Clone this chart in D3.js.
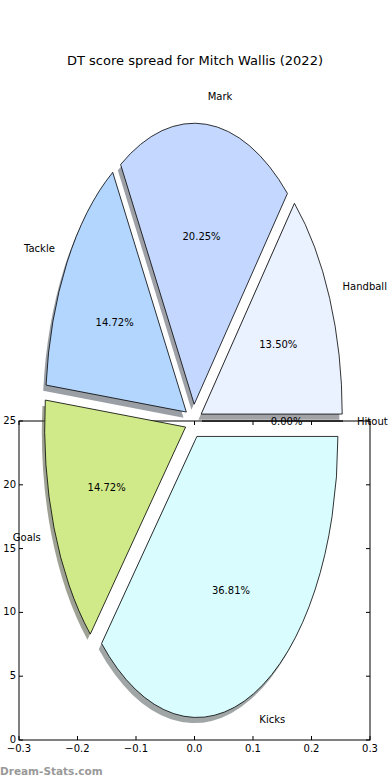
<!DOCTYPE html>
<meta charset="utf-8">
<style>
body { margin: 0; background: #fff; }
svg { font-family: "DejaVu Sans", sans-serif; }
</style>
<body>
<svg id="chart" width="390" height="780"></svg>
</body>
<script src="https://d3js.org/d3.v7.min.js"></script>
<script>
// data: DT points per stat category
var categories = ["Handball", "Mark", "Tackle", "Goals", "Kicks", "Hitout"];
var dtPoints = [22, 33, 24, 24, 60, 0];
var sliceColors = ["#eaf1ff", "#c4d8ff", "#b3d6ff", "#d0ea8a", "#d9fdff", "#ffe4e1"];
var xTicks = [-0.3, -0.2, -0.1, 0.0, 0.1, 0.2, 0.3];
var yTicks = [0, 5, 10, 15, 20, 25];

var svg = d3.select("#chart");

// axes box
var x = d3.scaleLinear().domain([-0.3, 0.3]).range([19, 370]);
var y = d3.scaleLinear().domain([0, 25]).range([740, 421]);

var cx = x(0) - 1, cy = y(25),
  rx = 141, ry = 281,
  explode = 0.06;

svg.append("text")
  .attr("x", 195).attr("y", 65)
  .attr("text-anchor", "middle")
  .style("font-size", "13px")
  .text("DT score spread for Mitch Wallis (2022)");

// frame first, wedges are drawn over it
var frame = svg.append("g");
frame.append("rect")
  .attr("x", x(-0.3)).attr("y", y(25))
  .attr("width", x(0.3) - x(-0.3)).attr("height", y(0) - y(25))
  .attr("fill", "none").attr("stroke", "#000").attr("stroke-width", 1);

xTicks.forEach(function (t) {
  frame.append("line").attr("x1", x(t)).attr("x2", x(t)).attr("y1", y(0)).attr("y2", y(0) - 4).attr("stroke", "#000");
  frame.append("line").attr("x1", x(t)).attr("x2", x(t)).attr("y1", y(25)).attr("y2", y(25) + 4).attr("stroke", "#000");
  frame.append("text").attr("x", x(t)).attr("y", y(0) + 12)
    .attr("text-anchor", "middle").style("font-size", "10px")
    .text(d3.format(".1f")(t).replace("-", "\u2212"));
});
yTicks.forEach(function (t) {
  frame.append("line").attr("x1", x(-0.3)).attr("x2", x(-0.3) + 4).attr("y1", y(t)).attr("y2", y(t)).attr("stroke", "#000");
  frame.append("line").attr("x1", x(0.3)).attr("x2", x(0.3) - 4).attr("y1", y(t)).attr("y2", y(t)).attr("stroke", "#000");
  frame.append("text").attr("x", x(-0.3) - 3).attr("y", y(t)).attr("dy", "0.3em")
    .attr("text-anchor", "end").style("font-size", "10px").text(t);
});

// pie: matplotlib style, starts at 3 o'clock, counterclockwise
var pie = d3.pie().sort(null).value(function (d) { return d; })
  .startAngle(Math.PI / 2).endAngle(Math.PI / 2 - 2 * Math.PI);
var arcs = pie(dtPoints);
var total = d3.sum(dtPoints);
var arc = d3.arc().innerRadius(0).outerRadius(1);

arcs.forEach(function (a) {
  var mid = (a.startAngle + a.endAngle) / 2;
  a.ux = Math.sin(mid);
  a.uy = -Math.cos(mid);
  a.ox = cx + explode * a.ux * rx;
  a.oy = cy + explode * a.uy * ry;
});

// shadows under all wedges
svg.append("g").selectAll("path").data(arcs).enter().append("path")
  .attr("transform", function (a) { return "translate(" + (a.ox - 0.02 * rx) + "," + (a.oy + 0.02 * ry) + ") scale(" + rx + "," + ry + ")"; })
  .attr("d", arc)
  .attr("fill", function (a, i) { var c = d3.rgb(sliceColors[i]); return d3.rgb(c.r * 0.3, c.g * 0.3, c.b * 0.3); })
  .attr("fill-opacity", 0.5);

svg.append("g").selectAll("path").data(arcs).enter().append("path")
  .attr("transform", function (a) { return "translate(" + a.ox + "," + a.oy + ") scale(" + rx + "," + ry + ")"; })
  .attr("d", arc)
  .attr("fill", function (a, i) { return sliceColors[i]; })
  .attr("stroke", "#000").attr("stroke-width", 0.8)
  .attr("vector-effect", "non-scaling-stroke");

// percentages
svg.append("g").selectAll("text").data(arcs).enter().append("text")
  .attr("x", function (a) { return a.ox + 0.6 * a.ux * rx; })
  .attr("y", function (a) { return a.oy + 0.6 * a.uy * ry; })
  .attr("dy", "0.35em").attr("text-anchor", "middle")
  .style("font-size", "10px")
  .text(function (a) { return (a.value / total * 100).toFixed(2) + "%"; });

// labels
svg.append("g").selectAll("text").data(arcs).enter().append("text")
  .attr("x", function (a) { return a.ox + 1.1 * a.ux * rx; })
  .attr("y", function (a) { return a.oy + 1.1 * a.uy * ry; })
  .attr("dy", "0.35em")
  .attr("text-anchor", function (a) { return a.ux > 0 ? "start" : "end"; })
  .style("font-size", "10px")
  .text(function (a, i) { return categories[i]; });

svg.append("text")
  .attr("x", 0).attr("y", 775)
  .style("font-size", "10.5px").style("font-weight", "bold").attr("fill", "#999")
  .text("Dream-Stats.com");
</script>
